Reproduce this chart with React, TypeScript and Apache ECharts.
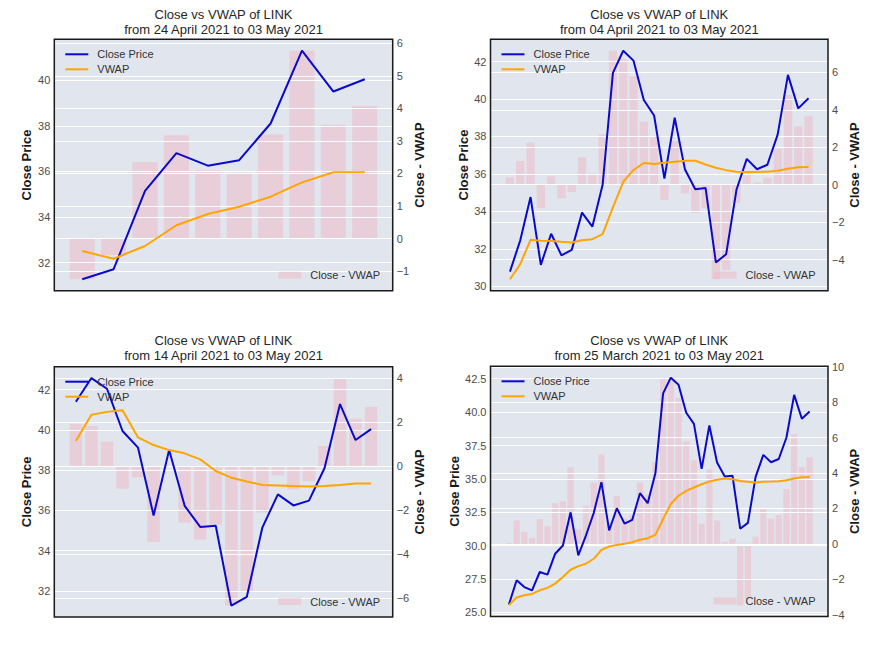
import React, { useEffect, useRef } from "react";
import * as echarts from "echarts";

// ---- Data ----
// Daily close price of LINK, 25 March 2021 .. 03 May 2021 (40 days)
const closePrice = [
  25.6, 27.41, 26.9, 26.66, 28.03, 27.83, 29.4, 30.01, 32.5, 29.27,
  30.78, 32.45, 34.76, 31.14, 32.8, 31.65, 31.94, 33.93, 33.18, 35.42,
  41.4, 42.58, 42.05, 39.95, 39.12, 35.75, 39.0, 36.23, 35.18, 35.24,
  31.27, 31.71, 35.15, 36.8, 36.25, 36.49, 38.1, 41.29, 39.5, 40.04,
];

// VWAP computed from each window's start date
const vwap10 = [32.51, 32.17, 32.73, 33.64, 34.13, 34.45, 34.89, 35.52, 35.96, 35.96];
const vwap30 = [
  30.37, 31.18, 32.48, 32.43, 32.41, 32.37, 32.34, 32.46, 32.51, 32.78,
  34.21, 35.58, 36.21, 36.58, 36.53, 36.6, 36.65, 36.7, 36.7, 36.5,
  36.33, 36.2, 36.12, 36.1, 36.1, 36.12, 36.17, 36.27, 36.35, 36.37,
];
const vwap20 = [
  39.46, 40.76, 40.9, 40.98, 39.63, 39.25, 39.0, 38.84, 38.54, 37.96,
  37.63, 37.44, 37.27, 37.24, 37.21, 37.19, 37.22, 37.27, 37.34, 37.34,
];
const vwap40 = [
  25.55, 26.12, 26.29, 26.39, 26.66, 26.84, 27.16, 27.66, 28.2, 28.47,
  28.65, 29.02, 29.69, 29.94, 30.06, 30.14, 30.26, 30.44, 30.56, 30.81,
  32.0, 33.12, 33.74, 34.11, 34.36, 34.6, 34.8, 34.93, 35.03, 34.98,
  34.85, 34.78, 34.73, 34.78, 34.8, 34.83, 34.9, 35.03, 35.13, 35.15,
];

// Close - VWAP bars
const diff10 = [-1.25, -0.5, 2.35, 3.17, 2.1, 2.02, 3.2, 5.77, 3.5, 4.07];
const diff30 = [
  0.4, 1.27, 2.25, -1.25, 0.45, -0.72, -0.38, 1.47, 0.6, 2.7,
  7.16, 6.7, 5.8, 3.37, 2.6, -0.82, 2.33, -0.45, -1.51, -1.26,
  -5.05, -4.55, -0.97, 0.72, 0.12, 0.37, 1.92, 4.8, 3.12, 3.68,
];
const diff20 = [
  1.92, 1.83, 1.12, -1.02, -0.5, -3.45, 0.02, -2.57, -3.33, -2.66,
  -6.34, -5.7, -2.1, -0.42, -1.05, -0.68, 0.92, 4.01, 2.16, 2.7,
];
const diff40 = [
  0.05, 1.32, 0.68, 0.33, 1.4, 1.0, 2.3, 2.4, 4.32, 0.82,
  2.15, 3.46, 5.05, 1.15, 2.7, 1.43, 1.6, 3.46, 2.75, 4.62,
  9.33, 9.39, 8.25, 5.8, 4.72, 1.14, 4.21, 1.31, 0.12, 0.28,
  -3.46, -3.1, 0.4, 1.99, 1.42, 1.63, 3.1, 6.2, 4.33, 4.9,
];

const startDates = ["24 April 2021", "04 April 2021", "14 April 2021", "25 March 2021"];
const endDate = "03 May 2021";
const vwaps = [vwap10, vwap30, vwap20, vwap40];
const diffs = [diff10, diff30, diff20, diff40];
const leftTickStep = [2, 2, 2, 2.5];
const rightTickStep = [1, 2, 2, 2];
const leftDecimals = [0, 0, 0, 1];

// ---- Layout (pixels) ----
const frames = [
  { l: 54.3, t: 39.3, r: 392.7, b: 290.7, titleTop: 6.5, leftGap: 21 },
  { l: 490.5, t: 39.3, r: 828, b: 290.7, titleTop: 6.5, leftGap: 21 },
  { l: 54.3, t: 366.7, r: 392.7, b: 617, titleTop: 332.5, leftGap: 21 },
  { l: 490.5, t: 366.3, r: 828, b: 616.5, titleTop: 332.5, leftGap: 30 },
];

const FONT = '"Liberation Sans", Arial, Helvetica, sans-serif';
const BG = "#E0E5EE";
const BLUE = "#0A0ACD";
const ORANGE = "#FFA500";
const PINK = "rgba(240,184,196,0.5)";
const minus = (s: string) => s.replace("-", "\u2212");

function buildOption() {
  const option: any = {
    animation: false,
    backgroundColor: "#ffffff",
    title: [],
    grid: [],
    xAxis: [],
    yAxis: [],
    series: [],
    legend: [],
    graphic: [],
  };
  frames.forEach((f, k) => {
    const vwap = vwaps[k];
    const diff = diffs[k];
    const n = vwap.length;
    const close = closePrice.slice(closePrice.length - n);
    const w = f.r - f.l;
    const h = f.b - f.t;

    option.title.push({
      text: "Close vs VWAP of LINK\nfrom " + startDates[k] + " to " + endDate,
      left: (f.l + f.r) / 2,
      top: f.titleTop,
      textAlign: "center",
      padding: 0,
      textStyle: { fontFamily: FONT, fontSize: 13, fontWeight: "normal", color: "#262626", lineHeight: 15 },
    });

    option.grid.push({
      left: f.l, top: f.t, width: w, height: h,
      show: true, backgroundColor: BG, borderWidth: 0, containLabel: false,
    });

    const span = n - 1 + 0.8;
    option.xAxis.push({
      type: "value", gridIndex: k, show: false,
      min: -0.4 - 0.05 * span, max: n - 1 + 0.4 + 0.05 * span,
      splitLine: { show: false },
    });

    const lv = close.concat(vwap);
    const lmin = Math.min(...lv), lmax = Math.max(...lv), lr = lmax - lmin;
    const rmin = Math.min(0, ...diff), rmax = Math.max(0, ...diff), rr = rmax - rmin;

    option.yAxis.push({
      type: "value", gridIndex: k, position: "left", z: 2,
      min: lmin - 0.05 * lr, max: lmax + 0.05 * lr,
      minInterval: leftTickStep[k], maxInterval: leftTickStep[k],
      axisLine: { show: false }, axisTick: { show: false },
      splitLine: { show: true, lineStyle: { color: "#ffffff", width: 1 } },
      axisLabel: {
        showMinLabel: false, showMaxLabel: false, margin: 4,
        color: "#4d4d4d", fontSize: 11, fontFamily: FONT,
        formatter: (v: number) => minus(v.toFixed(leftDecimals[k])),
      },
      name: "Close Price", nameLocation: "middle", nameGap: f.leftGap, nameRotate: 90,
      nameTextStyle: { fontFamily: FONT, fontSize: 13, fontWeight: "bold", color: "#1a1a1a" },
    });
    option.yAxis.push({
      type: "value", gridIndex: k, position: "right", z: 2,
      min: rmin - 0.05 * rr, max: rmax + 0.05 * rr,
      minInterval: rightTickStep[k], maxInterval: rightTickStep[k],
      axisLine: { show: false }, axisTick: { show: false },
      splitLine: { show: true, lineStyle: { color: "#ffffff", width: 1 } },
      axisLabel: {
        showMinLabel: false, showMaxLabel: false, margin: 4,
        color: "#4d4d4d", fontSize: 11, fontFamily: FONT,
        formatter: (v: number) => minus(String(Math.round(v))),
      },
      name: "Close - VWAP", nameLocation: "middle", nameGap: 18, nameRotate: 90,
      nameTextStyle: { fontFamily: FONT, fontSize: 13, fontWeight: "bold", color: "#1a1a1a" },
    });

    option.series.push({
      type: "bar", name: "Close - VWAP", xAxisIndex: k, yAxisIndex: 2 * k + 1, z: 1,
      data: diff.map((v, i) => [i, v]), barWidth: "80%",
      color: PINK, itemStyle: { color: PINK }, silent: true,
    });
    option.series.push({
      type: "line", name: "Close Price", xAxisIndex: k, yAxisIndex: 2 * k, z: 3,
      data: close.map((v, i) => [i, v]), showSymbol: false, symbol: "none",
      color: BLUE, lineStyle: { color: BLUE, width: 2 }, silent: true,
    });
    option.series.push({
      type: "line", name: "VWAP", xAxisIndex: k, yAxisIndex: 2 * k, z: 3,
      data: vwap.map((v, i) => [i, v]), showSymbol: false, symbol: "none",
      color: ORANGE, lineStyle: { color: ORANGE, width: 2 }, silent: true,
    });

    const textStyle = { fontFamily: FONT, fontSize: 11, color: "#333333", lineHeight: 13, padding: [0, 0, 0, 4] };
    option.legend.push({
      data: ["Close Price", "VWAP"], orient: "vertical", selectedMode: false,
      left: f.l + 11, top: f.t + 15 - 6.5, padding: 0, itemGap: 2,
      itemWidth: 23, itemHeight: 2, icon: "rect", textStyle, z: 10,
    });
    option.legend.push({
      data: ["Close - VWAP"], orient: "vertical", selectedMode: false,
      left: f.r - 114.4, top: f.b - 15.5 - 6.5, padding: 0,
      itemWidth: 23, itemHeight: 7, icon: "rect", textStyle, z: 10,
    });

    option.graphic.push({
      type: "rect", z: 100, silent: true,
      shape: { x: f.l, y: f.t, width: w, height: h },
      style: { fill: "transparent", stroke: "#1a1a1a", lineWidth: 1.5 },
    });
  });
  return option;
}

export default function App() {
  const ref = useRef<HTMLDivElement>(null);
  useEffect(() => {
    if (!ref.current) return;
    const chart = echarts.init(ref.current, undefined, { renderer: "svg" });
    chart.setOption(buildOption());
    return () => chart.dispose();
  }, []);
  return (
    <div
      ref={ref}
      style={{ position: "absolute", left: 0, top: 0, width: 872, height: 654 }}
    />
  );
}
